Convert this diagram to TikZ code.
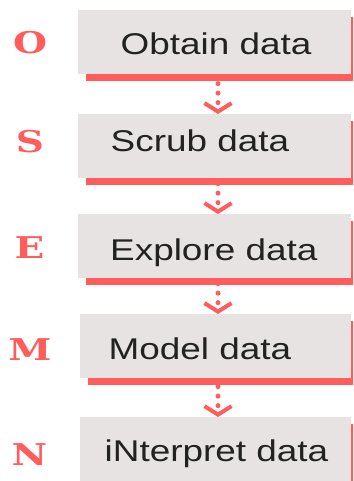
\documentclass[tikz,border=0pt]{standalone}
\usepackage{fontspec}
\usepackage{tikz}
\usetikzlibrary{calc,arrows.meta,shadows,backgrounds}
\newfontfamily\stagefont{Liberation Sans}[FakeStretch=1.23]
\newfontfamily\letterfont{DejaVu Serif Bold}[FakeStretch=1.3]
\definecolor{redx}{HTML}{FF5C5C}
\definecolor{boxgray}{HTML}{E7E3E2}
\definecolor{inkx}{HTML}{222222}
\tikzset{
  stage/.style={fill=boxgray,anchor=north west,inner sep=0pt,minimum width=273pt,minimum height=64pt,
    drop shadow={shadow xshift=8pt,shadow yshift=-6.5pt,fill=redx,opacity=1}},
  stagetext/.style={anchor=base west,inner sep=0pt,text=inkx,font={\stagefont\fontsize{30}{30}\selectfont}},
  letter/.style={anchor=base,inner sep=0pt,text=redx,font={\letterfont\fontsize{30}{30}\selectfont}},
  flow/.style={{Straight Barb[length=8.5pt,width=27pt,line width=4pt]}-,redx,line width=5pt,
    line cap=round,dash pattern=on 0pt off 9.5pt,dash phase=2.5pt}
}
\begin{document}
\begin{tikzpicture}[x=1pt,y=-1pt]
\useasboundingbox (0,0) rectangle (353,481);
\clip (0,0) rectangle (353,481);
\coordinate (spine) at (218,0);
% the five stages
\node[stage] (obtain) at (78,10) {};
\node[stage] (scrub) at (78,114) {};
\node[stage] (explore) at (78,214) {};
\node[stage,minimum width=271pt] (model) at (80,314) {};
\node[stage,minimum width=271pt] (interpret) at (80,417) {};
\node[stagetext] (obtain-txt) at (120.5,55) {Obtain data};
\node[stagetext] (scrub-txt) at (110.5,151) {Scrub data};
\node[stagetext] (explore-txt) at (110,260) {Explore data};
\node[stagetext] (model-txt) at (108.5,359) {Model data};
\node[stagetext] (interpret-txt) at (104.5,461) {iNterpret data};
% initials down the left side
\node[letter] (o-mark) at (30,54) {O};
\node[letter] (s-mark) at (30,153) {S};
\node[letter] (e-mark) at (29.5,258) {E};
\node[letter] (m-mark) at (30,360) {M};
\node[letter] (n-mark) at (29.5,465) {N};
% dotted arrows behind the boxes, drawn up from the top of the next stage
\begin{scope}[on background layer]
\foreach \a/\b in {obtain/scrub,scrub/explore,explore/model,model/interpret}
  \draw[flow] (\b.north -| spine) -- (\a.south -| spine);
\end{scope}
\end{tikzpicture}
\end{document}
